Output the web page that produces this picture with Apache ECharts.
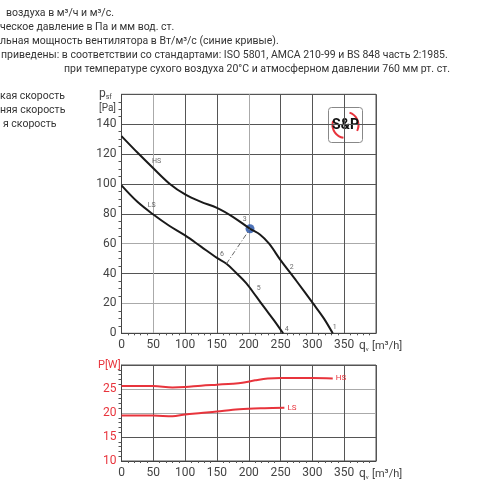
<!DOCTYPE html>
<html><head><meta charset="utf-8">
<script src="https://cdn.jsdelivr.net/npm/echarts@6/dist/echarts.min.js"></script>
<style>html,body{margin:0;padding:0;background:#fff}#c{width:500px;height:500px}</style>
</head><body><div id="c"></div>
<script>
// ---- data ----
const flowTicks = [0, 50, 100, 150, 200, 250, 300, 350];
const hsFlow = [0, 25, 50, 76, 100, 125, 150, 175, 202, 218, 232, 250, 275, 301, 318, 332];
const hsPressure = [132, 121, 110.5, 100, 93, 88, 84, 78, 70, 66, 60, 49, 35, 20, 10, 0];
const lsFlow = [0, 25, 50, 75, 100, 125, 150, 165, 180, 196, 212, 225, 240, 254];
const lsPressure = [99, 88, 79.5, 72, 65.5, 58, 50.5, 46.6, 40.5, 33.6, 24.5, 17, 8.5, 0];
const operatingPoint = [202, 70];
const lsLinkPoint = [165, 46.6];
const powerHsFlow = [0, 25, 50, 80, 100, 125, 150, 175, 190, 210, 230, 250, 300, 332];
const powerHs = [25.6, 25.6, 25.6, 25.3, 25.4, 25.7, 25.9, 26.1, 26.3, 26.8, 27.2, 27.3, 27.3, 27.2];
const powerLsFlow = [0, 25, 50, 80, 100, 125, 150, 175, 200, 225, 256];
const powerLs = [19.5, 19.5, 19.5, 19.3, 19.7, 20.0, 20.3, 20.7, 20.9, 21.0, 21.1];
const curveNotes = [[55, 115.4, 'HS'], [47.4, 85.6, 'LS'], [193.7, 76.2, '3'], [267.5, 44, '2'],
  [335, 3.8, '1'], [259.6, 2.9, '4'], [215.7, 30.3, '5'], [158, 53, '6']];
const headerLines = [
  'воздуха в м³/ч и м³/с.',
  'ческое давление в Па и мм вод. ст.',
  'льная мощность вентилятора в Вт/м³/с (синие кривые).',
  'приведены: в соответствии со стандартами: ISO 5801, AMCA 210-99 и BS 848 часть 2:1985.',
  'при температуре сухого воздуха 20°C и атмосферном давлении 760 мм рт. ст.'
];
const speedLines = ['кая скорость', 'няя скорость', 'я скорость'];

const zip = (a, b) => a.map((v, i) => [v, b[i]]);
const RED = '#e8343c';
const FONT = 'Roboto';

const chart = echarts.init(document.getElementById('c'), null, {renderer: 'canvas'});

const xAxisBase = (gi) => ({
  type: 'value', gridIndex: gi, min: 0, max: 400, interval: 50,
  axisLine: {show: true, lineStyle: {color: '#444', width: 1}},
  axisTick: {show: false},
  minorTick: {show: true, splitNumber: 5, length: 2, lineStyle: {color: '#555'}},
  axisLabel: {color: '#444', fontSize: 12, fontFamily: FONT, margin: 6,
    formatter: v => v === 400 ? '' : String(v)},
  splitLine: {show: true, lineStyle: {color: gi === 0
    ? ['#555', '#aaa', '#555', '#555', '#aaa', '#555', '#555', '#555', '#555']
    : '#555', width: 1}}
});

const headerGraphics = headerLines.map((t, i) => ({
  type: 'text',
  left: i === 4 ? null : (i === 0 ? 6 : (i === 3 ? 1 : 0)),
  right: i === 4 ? 50 : null,
  top: 8 + i * 14,
  style: {text: t, fill: '#333', font: '10.5px ' + FONT}
}));
const speedGraphics = speedLines.map((t, i) => ({
  type: 'text', left: i === 2 ? 3 : 0, top: 91 + i * 14,
  style: {text: t, fill: '#333', font: '10.5px ' + FONT}
}));

chart.setOption({
  animation: false,
  grid: [
    {left: 121.5, right: 124, top: 94.3, height: 239, show: true, borderColor: '#555', borderWidth: 1},
    {left: 121.5, right: 124, top: 365, height: 96, show: true, borderColor: '#555', borderWidth: 1}
  ],
  xAxis: [xAxisBase(0), xAxisBase(1)],
  yAxis: [
    {type: 'value', gridIndex: 0, min: 0, max: 160, interval: 20,
      axisLine: {show: true, lineStyle: {color: '#444'}},
      axisTick: {show: false},
      minorTick: {show: true, splitNumber: 4, length: 3, lineStyle: {color: '#555'}},
      axisLabel: {color: '#444', fontSize: 12, fontFamily: FONT, margin: 5,
        formatter: v => v === 160 ? '' : String(v)},
      splitLine: {show: true, lineStyle: {color: ['#555', '#aaa', '#555', '#aaa', '#555', '#555', '#555', '#555', '#555']}}},
    {type: 'value', gridIndex: 1, min: 10, max: 30, interval: 5,
      axisLine: {show: true, lineStyle: {color: '#444'}},
      axisTick: {show: false},
      minorTick: {show: true, splitNumber: 5, length: 3, lineStyle: {color: '#555'}},
      axisLabel: {color: RED, fontSize: 12, fontFamily: FONT, margin: 5,
        formatter: v => v === 30 ? '' : String(v)},
      splitLine: {show: true, lineStyle: {color: ['#555', '#555', '#aaa', '#aaa', '#555']}}}
  ],
  series: [
    {name: 'HS', type: 'line', xAxisIndex: 0, yAxisIndex: 0, data: zip(hsFlow, hsPressure),
      smooth: 0.35, symbol: 'none', lineStyle: {color: '#1a1a1a', width: 2}},
    {name: 'LS', type: 'line', xAxisIndex: 0, yAxisIndex: 0, data: zip(lsFlow, lsPressure),
      smooth: 0.35, symbol: 'none', lineStyle: {color: '#1a1a1a', width: 2}},
    {name: 'link', type: 'line', xAxisIndex: 0, yAxisIndex: 0, data: [lsLinkPoint, operatingPoint],
      symbol: 'none', lineStyle: {color: '#666', width: 1, type: [5, 2, 1, 2]}},
    {name: 'point', type: 'scatter', xAxisIndex: 0, yAxisIndex: 0, data: [operatingPoint],
      symbolSize: 9, itemStyle: {color: '#1f4fa6'}},
    {name: 'notes', type: 'scatter', xAxisIndex: 0, yAxisIndex: 0, data: curveNotes,
      symbolSize: 0, label: {show: true, position: 'inside', formatter: p => p.data[2],
        color: '#444', fontSize: 7, fontFamily: FONT}},
    {name: 'P HS', type: 'line', xAxisIndex: 1, yAxisIndex: 1, data: zip(powerHsFlow, powerHs),
      smooth: 0.35, symbol: 'none', lineStyle: {color: RED, width: 2},
      endLabel: {show: true, formatter: 'HS', color: RED, fontSize: 8, fontFamily: FONT, distance: 3}},
    {name: 'P LS', type: 'line', xAxisIndex: 1, yAxisIndex: 1, data: zip(powerLsFlow, powerLs),
      smooth: 0.35, symbol: 'none', lineStyle: {color: RED, width: 2},
      endLabel: {show: true, formatter: 'LS', color: RED, fontSize: 8, fontFamily: FONT, distance: 3}}
  ],
  graphic: [
    ...headerGraphics,
    ...speedGraphics,
    {type: 'text', left: 99, top: 88, style: {
      rich: {p: {fontSize: 12, fontFamily: FONT, fill: '#444'}, s: {fontSize: 7, fontFamily: FONT, fill: '#444', padding: [6, 0, 0, 0]}},
      text: '{p|p}{s|sf}'}},
    {type: 'text', left: 99, top: 103, style: {text: '[Pa]', fill: '#444', font: '10px ' + FONT}},
    {type: 'text', left: 359, top: 340, style: {
      rich: {q: {fontSize: 12, fontFamily: FONT, fill: '#444'}, s: {fontSize: 6, fontFamily: FONT, fill: '#444', padding: [6, 0, 0, 0]}, u: {fontSize: 11, fontFamily: FONT, fill: '#444'}},
      text: '{q|q}{s|v} {u|[m³/h]}'}},
    {type: 'text', left: 359, top: 468, style: {
      rich: {q: {fontSize: 12, fontFamily: FONT, fill: '#444'}, s: {fontSize: 6, fontFamily: FONT, fill: '#444', padding: [6, 0, 0, 0]}, u: {fontSize: 11, fontFamily: FONT, fill: '#444'}},
      text: '{q|q}{s|v} {u|[m³/h]}'}},
    {type: 'text', left: 98, top: 360, style: {text: 'P[W]', fill: RED, font: '11px ' + FONT}},
    {type: 'group', left: 328, top: 107, children: [
      {type: 'rect', shape: {x: 0, y: 0, width: 34, height: 35, r: 3},
        style: {fill: '#fff', stroke: '#888', lineWidth: 1}},
      {type: 'arc', shape: {cx: 17, cy: 17.5, r: 13, startAngle: Math.PI * 0.55, endAngle: Math.PI * 1.1},
        style: {stroke: RED, lineWidth: 2, fill: null}},
      {type: 'arc', shape: {cx: 17, cy: 17.5, r: 13, startAngle: -Math.PI * 0.4, endAngle: Math.PI * 0.15},
        style: {stroke: RED, lineWidth: 2, fill: null}},
      {type: 'text', x: 17, y: 17.5, style: {text: 'S&P', fill: '#111', font: 'bold 14px "Liberation Sans Narrow", ' + FONT,
        align: 'center', verticalAlign: 'middle'}}
    ]}
  ]
});
</script></body></html>
